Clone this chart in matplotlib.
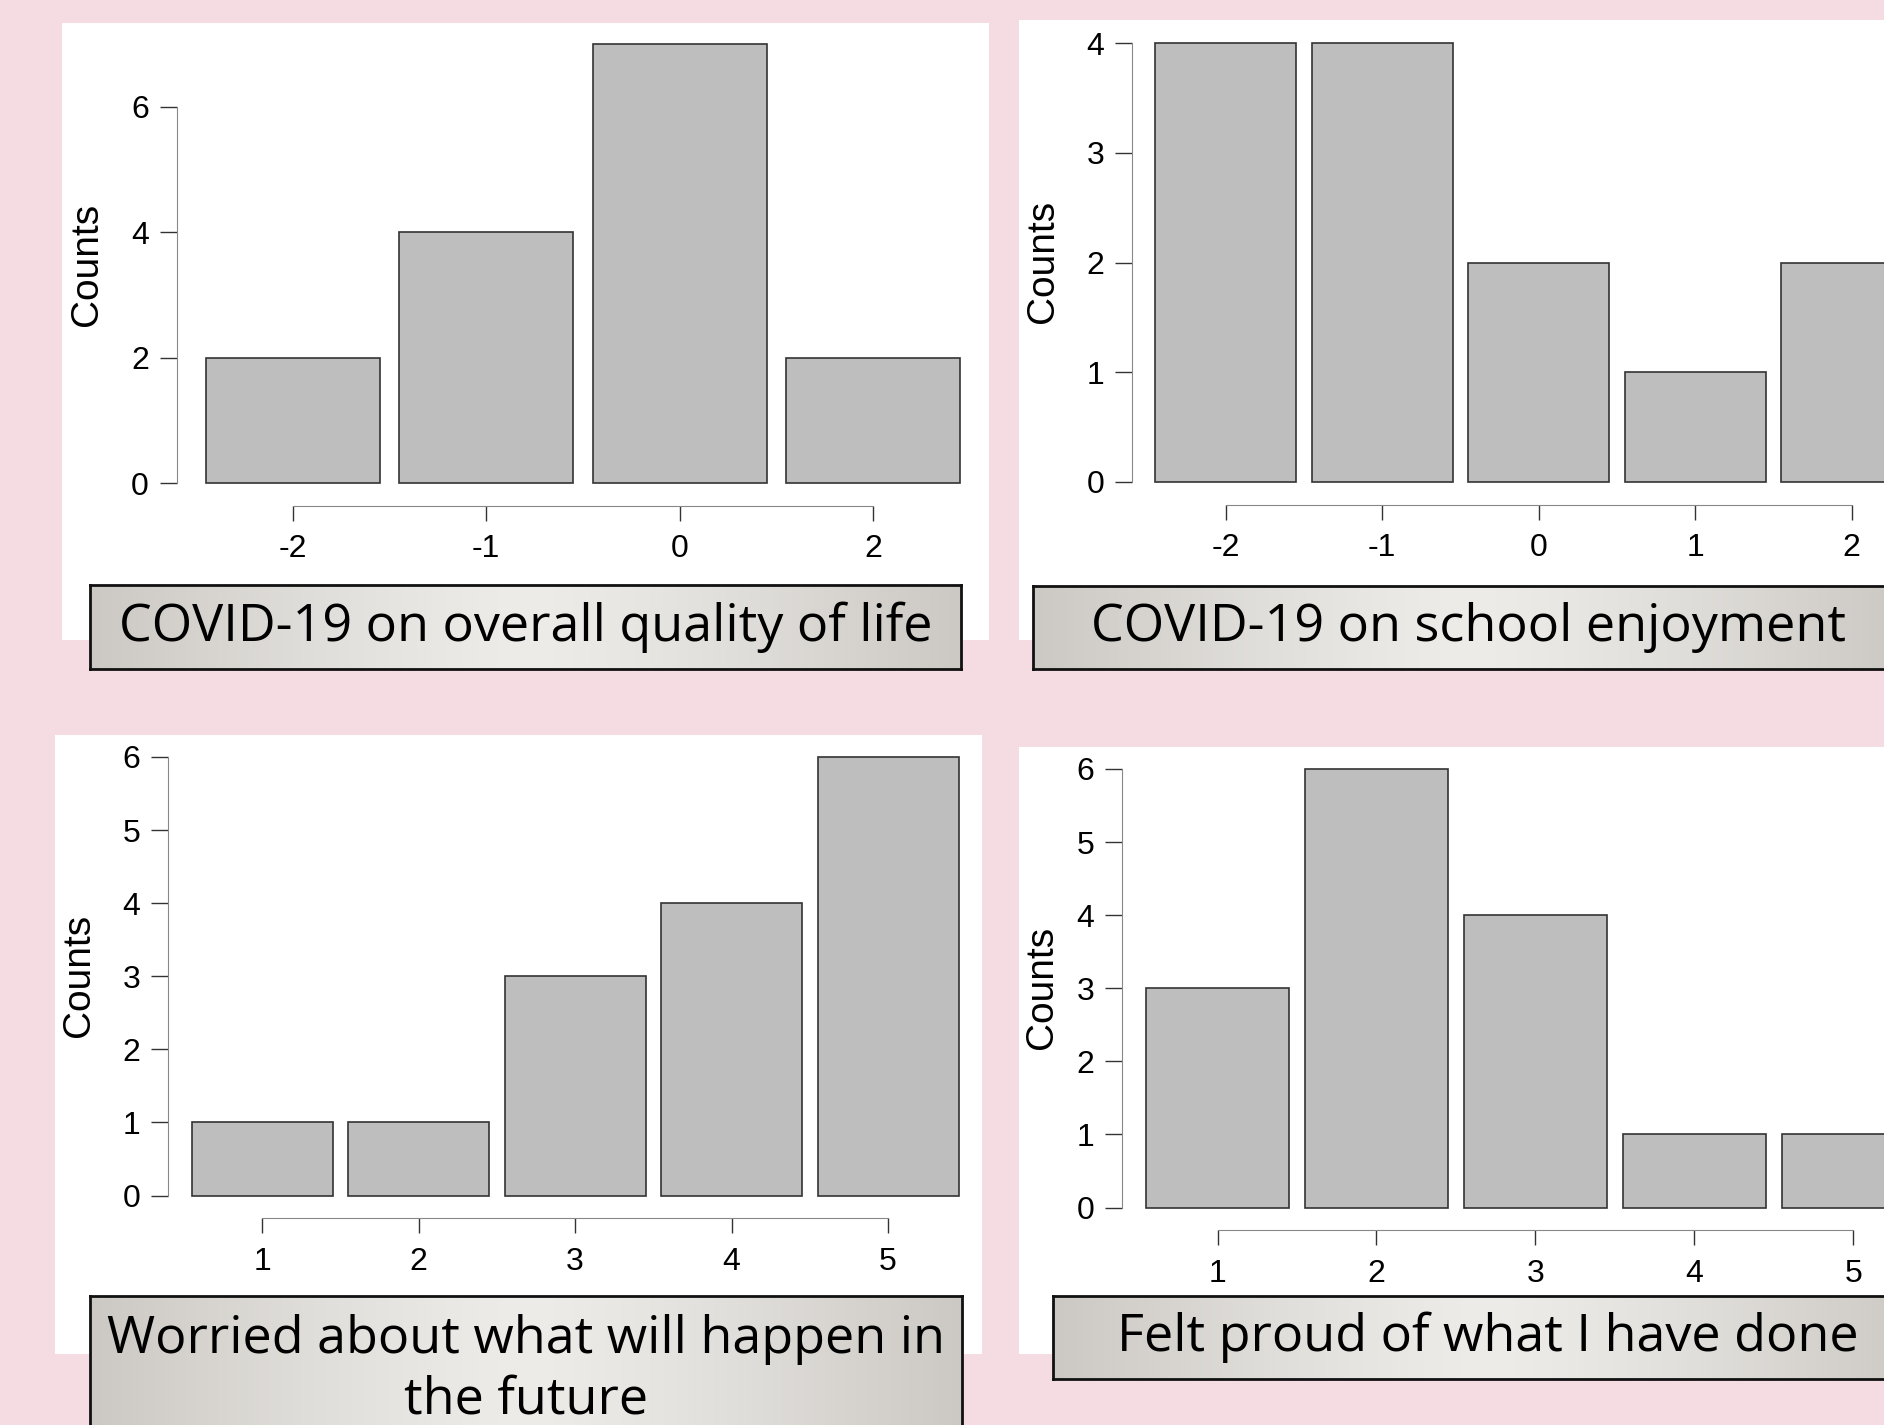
import numpy as np
import matplotlib
matplotlib.use("Agg")
import matplotlib.pyplot as plt
from matplotlib.patches import Rectangle

# data
quality_labels = ["-2", "-1", "0", "2"]
quality_counts = [2, 4, 7, 2]
school_labels = ["-2", "-1", "0", "1", "2"]
school_counts = [4, 4, 2, 1, 2]
worry_labels = ["1", "2", "3", "4", "5"]
worry_counts = [1, 1, 3, 4, 6]
proud_labels = ["1", "2", "3", "4", "5"]
proud_counts = [3, 6, 4, 1, 1]

captions = ["COVID-19 on overall quality of life",
            "COVID-19 on school enjoyment",
            "Worried about what will happen in\nthe future",
            "Felt proud of what I have done"]

W, H = 1568.0, 1186.0   # layout units (shrunk reference size)
PINK = "#f4dce2"
BAR = "#bebebe"

fig = plt.figure(figsize=(18.84, 14.25), dpi=100)
fig.patch.set_facecolor(PINK)


def rect(x0, y0, x1, y1):
    return [x0 / W, 1 - y1 / H, (x1 - x0) / W, (y1 - y0) / H]


def white_panel(x0, y0, x1, y1):
    r = rect(x0, y0, x1, y1)
    fig.patches.append(Rectangle((r[0], r[1]), r[2], r[3], transform=fig.transFigure,
                                 facecolor="white", edgecolor="none", zorder=-5))


def histogram(labels, counts, yaxis_x, zero_y, unit, spacing, ymax, yticks, counts_xy):
    n = len(counts)
    width = (n - 1 + 1.2) * spacing
    height = ymax * unit
    ax = fig.add_axes(rect(yaxis_x, zero_y - height, yaxis_x + width, zero_y))
    ax.set_facecolor("none")
    x = np.arange(n)
    ax.bar(x, counts, width=0.9, color=BAR, edgecolor="#333333", linewidth=1.2, clip_on=False)
    ax.set_xlim(-0.6, n - 0.4)
    ax.set_ylim(0, ymax)
    for s in ["top", "right"]:
        ax.spines[s].set_visible(False)
    ax.spines["left"].set_bounds(yticks[0], yticks[-1])
    ax.spines["left"].set_color("#888888")
    ax.spines["bottom"].set_bounds(0, n - 1)
    ax.spines["bottom"].set_position(("outward", 16.4))
    ax.spines["bottom"].set_color("#888888")
    ax.set_xticks(x)
    ax.set_xticklabels(labels)
    ax.set_yticks(yticks)
    ax.tick_params(axis="x", length=10.5, width=1, color="#333333", pad=10, labelsize=23)
    ax.tick_params(axis="y", length=12, width=1, color="#333333", pad=8, labelsize=23)
    for t in ax.get_xticklabels() + ax.get_yticklabels():
        t.set_fontfamily("Liberation Sans")
    fig.text(counts_xy[0] / W, 1 - counts_xy[1] / H, "Counts", rotation=90,
             ha="center", va="center", fontsize=28, family="Liberation Sans")
    return ax


def caption(x0, y0, x1, y1, text, text_xy):
    ax = fig.add_axes(rect(x0, y0, x1, y1), zorder=5)
    t = np.linspace(0, 1, 400)
    shade = 1 - np.abs(2 * t - 1) ** 1.3
    edge = np.array([204, 200, 195]) / 255.0
    mid = np.array([237, 236, 233]) / 255.0
    img = edge[None, :] + (mid - edge)[None, :] * shade[:, None]
    ax.imshow(img[None, :, :], aspect="auto", extent=(0, 1, 0, 1))
    ax.set_xlim(0, 1)
    ax.set_ylim(0, 1)
    ax.set_xticks([])
    ax.set_yticks([])
    for s in ax.spines.values():
        s.set_linewidth(2)
        s.set_color("#111111")
    fig.text(text_xy[0] / W, 1 - text_xy[1] / H, text, ha="center", va="center",
             fontsize=37.5, family="Open Sans", linespacing=1.22, zorder=10)


white_panel(52, 19, 823, 533)
white_panel(848, 17, 1600, 533)
white_panel(46, 612, 817, 1127)
white_panel(848, 622, 1600, 1127)

histogram(quality_labels, quality_counts, 147, 402, 52.17, 161, 7, [0, 2, 4, 6], (72, 220))
histogram(school_labels, school_counts, 942, 401, 91.25, 130.25, 4, [0, 1, 2, 3, 4], (868, 218))
histogram(worry_labels, worry_counts, 140, 995, 60.83, 130.25, 6, [0, 1, 2, 3, 4, 5, 6], (66, 812))
histogram(proud_labels, proud_counts, 934, 1005, 60.83, 132.25, 6, [0, 1, 2, 3, 4, 5, 6], (867, 822))

caption(75, 487, 800, 557, captions[0], (437.5, 522))
caption(860, 488, 1584, 557, captions[1], (1222, 522))
caption(75, 1079, 801, 1215, captions[2], (438, 1140))
caption(876, 1079, 1600, 1148, captions[3], (1238, 1113))

fig.savefig("out.png", dpi=100, facecolor=PINK)
